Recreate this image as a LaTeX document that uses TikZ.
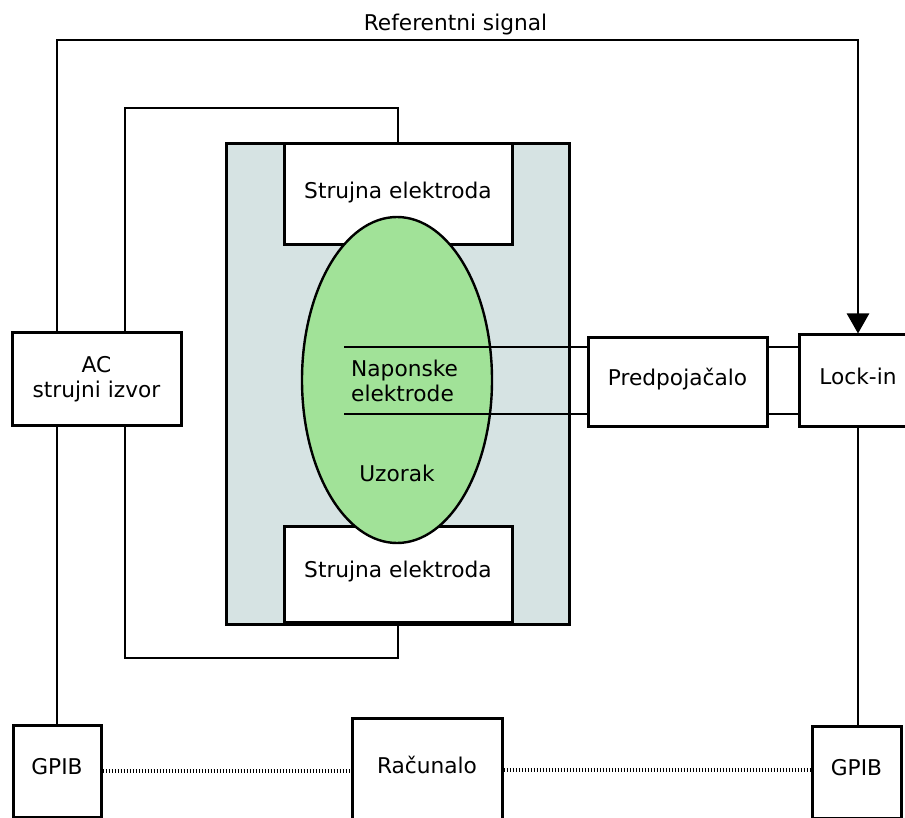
\documentclass[tikz,border=0pt]{standalone}
\usepackage{fontspec}
\setmainfont{DejaVu Sans}
\usetikzlibrary{arrows.meta}
\definecolor{holdergray}{RGB}{214,227,227}
\definecolor{samplegreen}{RGB}{161,226,152}

\begin{document}
\begin{tikzpicture}[x=1pt,y=-1pt,
    every node/.style={font=\fontsize{21.7}{25}\selectfont,inner sep=0pt},
    box/.style={draw,line width=3pt,fill=white},
    onerow/.style={text height=0.97em,text depth=0.24em},
    wire/.style={line width=2.5pt},
    bus/.style={line width=3.5pt,dash pattern=on 1.6pt off 1.4pt}]

  \useasboundingbox (0,0) rectangle (905,818);

  \node[draw,line width=3pt,fill=holdergray,minimum width=343pt,minimum height=480pt] (holder) at (397.5,384) {};

  \begin{scope}[every node/.append style={box,onerow}]
    \node[minimum width=228pt,minimum height=101pt] (topel)   at (398,194.5) {Strujna elektroda};
    \node[minimum width=228pt,minimum height=96pt]  (botel)   at (398,574)   {Strujna elektroda};
    \node[minimum width=179pt,minimum height=88pt]  (predpoj) at (677.5,382) {Predpojačalo};
    \node[minimum width=118pt,minimum height=91pt]  (lockin)  at (858,380.5) {Lock-in};
    \node[minimum width=88pt,minimum height=92pt]   (gpibL)   at (57,771)    {GPIB};
    \node[minimum width=89pt,minimum height=92pt]   (gpibR)   at (856.5,772) {GPIB};
    \node[minimum width=150pt,minimum height=104pt] (racun)   at (427,770)   {Računalo};
  \end{scope}
  \node[box,align=center,minimum width=169pt,minimum height=92pt] (ac) at (96.5,379) {AC\\strujni izvor};

  \draw[line width=2.4pt,fill=samplegreen] (397,380) ellipse [x radius=95,y radius=163];
  \node[align=left,anchor=west] (naplbl) at (351,381) {Naponske\\elektrode};
  \node[onerow] (uzorak) at (397,478) {Uzorak};
  \node[anchor=base] (reflbl) at (455.5,31) {Referentni signal};

  \coordinate (vp1) at (344,347);
  \coordinate (vp2) at (344,414);
  \coordinate (reftop) at (455,40);
  \coordinate (loopt) at (125,108);
  \coordinate (loopb) at (125,658);

  \draw[wire] (vp1) -- (predpoj.west |- vp1);
  \draw[wire] (vp2) -- (predpoj.west |- vp2);
  \draw[wire] (predpoj.east |- vp1) -- (lockin.west |- vp1);
  \draw[wire] (predpoj.east |- vp2) -- (lockin.west |- vp2);

  \draw[wire,-{Triangle[width=22pt,length=20pt]}] (ac.north -| gpibL.north) |- (reftop) -| (lockin.north);
  \draw[wire] (topel.north) |- (loopt) -- (loopt |- ac.north);
  \draw[wire] (loopt |- ac.south) -- (loopb) -| (botel.south);
  \draw[wire] (ac.south -| gpibL.north) -- (gpibL.north);
  \draw[wire] (lockin.south) -- (lockin.south |- gpibR.north);

  \draw[bus] (gpibL.east) -- (gpibL.east -| racun.west);
  \draw[bus] (racun.east) -- (racun.east -| gpibR.west);

\end{tikzpicture}
\end{document}
